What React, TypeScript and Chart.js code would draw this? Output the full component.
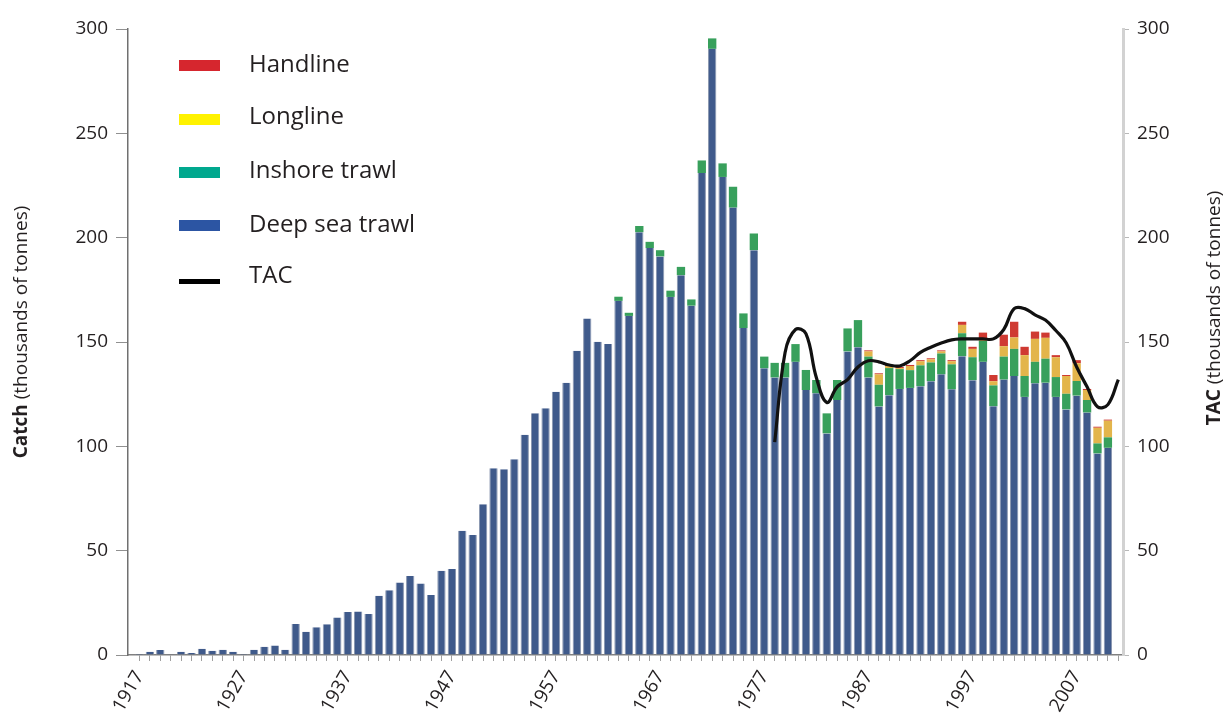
import React, { useEffect, useRef } from 'react';
import { Chart, registerables } from 'chart.js';

Chart.register(...registerables);

const FONT = '"Open Sans", "DejaVu Sans", sans-serif';

// ---- data (thousands of tonnes) ----
const CATCH_START_YEAR = 1917;
const deepSeaTrawl = [
  0.5, 1.6, 2.4, 0.3, 1.5, 1, 3, 2, 2.5, 1.5,
  0.5, 2.5, 4, 4.5, 2.5, 14.9, 11.2, 13.3, 14.7, 18,
  20.6, 20.9, 19.6, 28.4, 31, 34.7, 37.8, 34.3, 28.7, 40.4,
  41.2, 59.5, 57.5, 72.2, 89.5, 89, 93.8, 105.5, 115.8, 118.3,
  126.2, 130.5, 145.8, 161.3, 150.1, 149, 169.7, 162.5, 202.6, 195,
  191, 171.6, 182, 167.4, 231, 290.5, 229.1, 214.4, 156.7, 194,
  137.4, 133, 133, 140.5, 127, 125.4, 106.2, 122.2, 145.5, 147.5,
  133, 119.1, 124.5, 127.5, 128, 128.8, 131.2, 134.5, 127.3, 143.2,
  131.7, 140.5, 119.2, 132, 133.7, 123.7, 130.2, 130.5, 123.7, 117.7,
  124.3, 116.2, 96.6, 99.3,
];

const INSHORE_START_YEAR = 1963;
const inshoreTrawl = [
  2, 1.5, 3, 3, 3, 3, 4, 3, 6, 5,
  6.5, 10, 7, 8, 5.6, 7, 7, 8.5, 9.6, 6.4,
  9.6, 9.6, 11, 13, 10, 10.4, 13, 9.5, 8.5, 10,
  9, 10, 12, 11, 11, 10, 10, 11, 13, 10,
  10.3, 11.5, 9.5, 7.5, 7, 6, 4.8, 5,
];

const LONGLINE_START_YEAR = 1987;
const longline = [
  2.5, 5, 1, 0.5, 2, 2, 1.5, 1, 1.5, 4,
  4, 1, 2, 5, 5.5, 10, 11, 10, 9.5, 8.5,
  8.5, 4.8, 7.5, 8,
];

const HANDLINE_START_YEAR = 1987;
const handline = [
  0.5, 0.5, 0.5, 0.5, 0.5, 0.5, 0.5, 0.5, 0.5, 1.5,
  1, 3, 3, 5.5, 7.5, 4, 3.5, 2.5, 1, 0.5,
  1.5, 0.5, 0.5, 0.5,
];

const TAC_START_YEAR = 1978;
const tac = [
  102, 145, 156, 154, 133, 121, 128.5, 132, 138, 141,
  140.5, 139, 138.5, 141, 145, 147.5, 149.5, 151, 151.5, 151.5,
  151.5, 151.5, 156, 166, 166, 163, 160.5, 155.5, 149.5, 138,
  128.5, 119, 120, 132,
];

const xTickLabelYears = [1917, 1927, 1937, 1947, 1957, 1967, 1977, 1987, 1997, 2007];
const yTickValues = [0, 50, 100, 150, 200, 250, 300];

const seriesNames = ['Handline', 'Longline', 'Inshore trawl', 'Deep sea trawl', 'TAC'];
const legendColors = ['#d6262e', '#fff200', '#00a88e', '#2c55a3', '#000000'];

// ---- helpers ----
const toPoints = (start: number, values: number[]) =>
  values.map((v, i) => ({ x: start + i, y: v }));

const LAST_YEAR = TAC_START_YEAR + tac.length - 1;
const allYears: number[] = [];
for (let yr = CATCH_START_YEAR; yr <= LAST_YEAR; yr++) allYears.push(yr);

const drawRotatedTitle = (ctx: CanvasRenderingContext2D, cx: number, cy: number, bold: string, rest: string) => {
  ctx.save();
  ctx.translate(cx, cy);
  ctx.rotate(-Math.PI / 2);
  ctx.fillStyle = '#231f20';
  ctx.textBaseline = 'middle';
  ctx.textAlign = 'left';
  ctx.font = `bold 19px ${FONT}`;
  const wb = ctx.measureText(bold).width;
  ctx.font = `19px ${FONT}`;
  const wr = ctx.measureText(rest).width;
  const start = -(wb + wr) / 2;
  ctx.font = `bold 19px ${FONT}`;
  ctx.fillText(bold, start, 0);
  ctx.font = `19px ${FONT}`;
  ctx.fillText(rest, start + wb, 0);
  ctx.restore();
};

const overlayPlugin = {
  id: 'overlay',
  afterDraw(chart: any) {
    const ctx: CanvasRenderingContext2D = chart.ctx;
    ctx.save();
    const baselines = [72, 124, 178, 231.5, 283];
    const swatchTops = [60, 114, 167, 220, 279];
    seriesNames.forEach((name, i) => {
      ctx.fillStyle = legendColors[i];
      ctx.fillRect(179, swatchTops[i], 41, i === 4 ? 5 : 11);
      ctx.fillStyle = '#231f20';
      ctx.font = `24px ${FONT}`;
      ctx.textBaseline = 'alphabetic';
      ctx.textAlign = 'left';
      ctx.fillText(name, 249, baselines[i]);
    });
    ctx.restore();
    drawRotatedTitle(ctx, 22, 332, 'Catch', ' (thousands of tonnes)');
    drawRotatedTitle(ctx, 1215, 308, 'TAC', ' (thousands of tonnes)');
  },
};

export default function App() {
  const ref = useRef<HTMLCanvasElement>(null);

  useEffect(() => {
    const canvas = ref.current;
    if (!canvas) return;

    const chart = new Chart(canvas, {
      type: 'bar',
      data: {
        datasets: [
          {
            type: 'line',
            label: seriesNames[4],
            data: toPoints(TAC_START_YEAR, tac),
            yAxisID: 'y1',
            borderColor: '#111111',
            borderWidth: 3.2,
            pointRadius: 0,
            tension: 0.4,
            fill: false,
            order: 0,
          } as any,
          {
            label: seriesNames[3],
            data: toPoints(CATCH_START_YEAR, deepSeaTrawl),
            backgroundColor: '#3f5a8b',
            borderColor: '#8a97b0',
            borderWidth: { left: 1, right: 1, top: 0, bottom: 0 },
            borderSkipped: false,
            yAxisID: 'y',
            order: 1,
          },
          {
            label: seriesNames[2],
            data: toPoints(INSHORE_START_YEAR, inshoreTrawl),
            backgroundColor: '#38a05c',
            yAxisID: 'y',
            order: 1,
          },
          {
            label: seriesNames[1],
            data: toPoints(LONGLINE_START_YEAR, longline),
            backgroundColor: '#e3b54b',
            yAxisID: 'y',
            order: 1,
          },
          {
            label: seriesNames[0],
            data: toPoints(HANDLINE_START_YEAR, handline),
            backgroundColor: '#cf3a32',
            yAxisID: 'y',
            order: 1,
          },
        ],
      },
      options: {
        responsive: false,
        animation: false,
        devicePixelRatio: 1,
        layout: { padding: { top: 29, left: 0, right: 0, bottom: 0 } },
        datasets: {
          bar: { categoryPercentage: 1, barPercentage: 0.8 },
        },
        plugins: {
          legend: { display: false },
          tooltip: { enabled: false },
        },
        scales: {
          x: {
            type: 'linear',
            min: 1915.9,
            max: 2011.45,
            offset: false,
            stacked: true,
            afterBuildTicks: (scale: any) => {
              scale.ticks = allYears.map((v) => ({ value: v }));
            },
            afterFit: (scale: any) => {
              scale.height = 64;
            },
            ticks: {
              autoSkip: false,
              minRotation: 60,
              maxRotation: 60,
              padding: 6,
              color: '#231f20',
              font: { family: FONT, size: 19 },
              callback: (value: any) => (xTickLabelYears.includes(Number(value)) ? String(value) : ''),
            },
            grid: {
              drawOnChartArea: false,
              drawTicks: true,
              tickLength: 6,
              color: '#a0a0a0',
              offset: false,
            },
            border: { display: true, color: '#808080', width: 1.5 },
          },
          y: {
            position: 'left',
            stacked: true,
            min: 0,
            max: 300,
            afterBuildTicks: (scale: any) => {
              scale.ticks = yTickValues.map((v) => ({ value: v }));
            },
            afterFit: (scale: any) => {
              scale.width = 128;
            },
            ticks: {
              padding: 8,
              color: '#231f20',
              font: { family: FONT, size: 19 },
            },
            grid: {
              drawOnChartArea: false,
              drawTicks: true,
              tickLength: 12,
              color: '#909090',
            },
            border: { display: true, color: '#707070', width: 1.5 },
          },
          y1: {
            position: 'right',
            min: 0,
            max: 300,
            afterBuildTicks: (scale: any) => {
              scale.ticks = yTickValues.map((v) => ({ value: v }));
            },
            afterFit: (scale: any) => {
              scale.width = 104;
            },
            ticks: {
              padding: 8,
              color: '#231f20',
              font: { family: FONT, size: 19 },
            },
            grid: {
              drawOnChartArea: false,
              drawTicks: true,
              tickLength: 6,
              color: '#b8b8b8',
            },
            border: { display: true, color: '#d2d2d2', width: 3 },
          },
        },
      } as any,
      plugins: [overlayPlugin],
    });

    return () => chart.destroy();
  }, []);

  return (
    <div style={{ position: 'fixed', left: 0, top: 0, width: 1227, height: 719, background: '#ffffff' }}>
      <canvas ref={ref} width={1227} height={719} style={{ display: 'block' }} />
    </div>
  );
}
